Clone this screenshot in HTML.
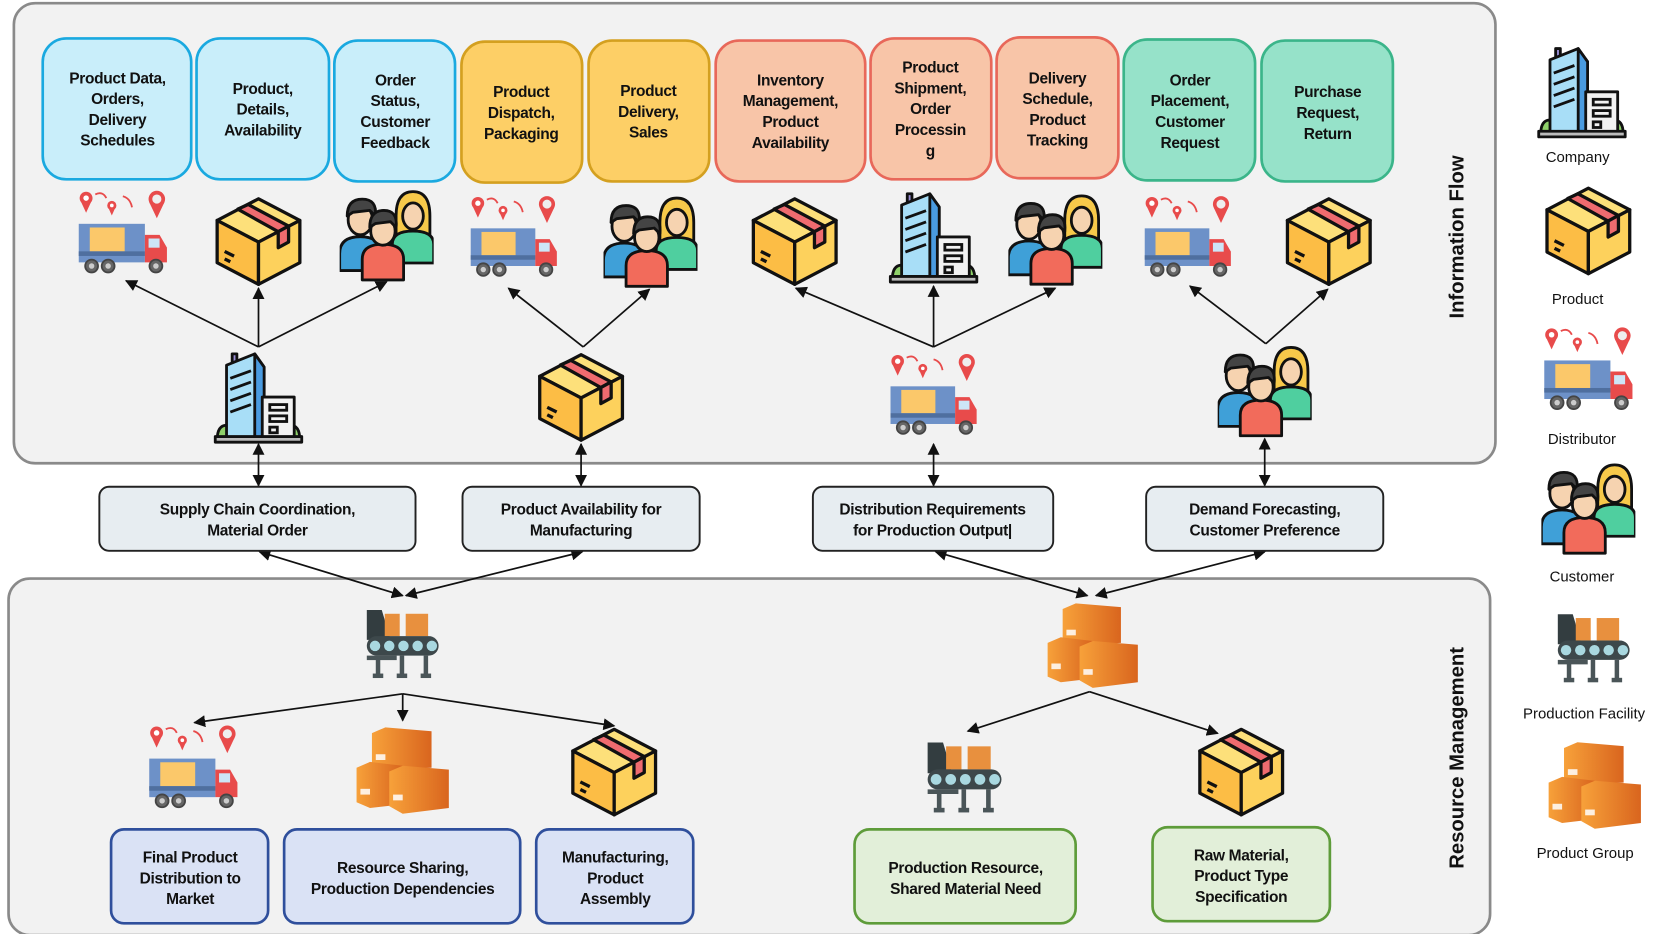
<!DOCTYPE html>
<html><head><meta charset="utf-8"><style>
html,body{margin:0;padding:0;background:#fff;width:1661px;height:934px;overflow:hidden}
svg text{font-family:"Liberation Sans",sans-serif}
.b{font-weight:bold;font-size:14.5px;fill:#111;text-anchor:middle;letter-spacing:-0.3px}
.l{font-size:14px;fill:#111;text-anchor:middle}
.ar{stroke:#111;stroke-width:1.6;fill:none}
</style></head><body>
<svg width="1661" height="934" viewBox="0 0 1555 875" preserveAspectRatio="none" xmlns="http://www.w3.org/2000/svg">
<defs>
<marker id="ah" viewBox="0 0 10 10" refX="9" refY="5" markerWidth="7" markerHeight="7" orient="auto-start-reverse"><path d="M0,0 L10,5 L0,10 z" fill="#111"/></marker>
<symbol id="box" viewBox="0 0 100 100">
<g stroke="#111" stroke-width="3.5" stroke-linejoin="round">
<polygon points="50,6 94,29 50,52 6,29" fill="#fde07a"/>
<polygon points="6,29 50,52 50,97 6,74" fill="#fcbd45"/>
<polygon points="50,52 94,29 94,74 50,97" fill="#fdd15c"/>
<polygon points="28,17 39,12 82,35 71,41" fill="#ef6b6f"/>
<polygon points="71,41 82,35 82,52 71,58" fill="#ef6b6f"/>
<path d="M14,62 L24,67 M14,70 L20,73" fill="none"/>
</g></symbol>
<symbol id="truck" viewBox="0 0 100 100">
<g fill="#e84b4b">
<circle cx="10" cy="10" r="7"/><path d="M4,13 L10,26 L16,13z"/>
<circle cx="38" cy="18" r="5"/><path d="M34,20 L38,29 L42,20z"/>
<circle cx="87" cy="11" r="9"/><path d="M79,15 L87,32 L95,15z"/>
</g>
<circle cx="10" cy="10" r="3" fill="#fff"/><circle cx="38" cy="18" r="2" fill="#fff"/><circle cx="87" cy="11" r="5" fill="#eee"/>
<path d="M20,6 Q28,2 32,10 M50,8 Q58,10 60,20" stroke="#e84b4b" stroke-width="2" fill="none"/>
<rect x="2" y="38" width="72" height="42" fill="#6d91c8"/>
<rect x="14" y="42" width="38" height="26" fill="#fbc86a"/>
<rect x="2" y="68" width="72" height="5" fill="#4f6f9f"/>
<path d="M74,50 L90,50 L98,64 L98,80 L74,80z" fill="#e84b4b"/>
<rect x="78" y="54" width="12" height="10" fill="#cde6f7"/>
<g fill="#666" stroke="#444" stroke-width="2"><circle cx="16" cy="84" r="7"/><circle cx="34" cy="84" r="7"/><circle cx="86" cy="84" r="7"/></g>
<g fill="#ccc"><circle cx="16" cy="84" r="3"/><circle cx="34" cy="84" r="3"/><circle cx="86" cy="84" r="3"/></g>
</symbol>
<symbol id="cust" viewBox="0 0 100 100">
<g stroke="#111" stroke-width="3" stroke-linejoin="round">
<path d="M60,30 Q60,4 78,4 Q96,4 96,30 L96,50 L60,50z" fill="#f7c94a"/>
<path d="M56,60 Q56,46 78,46 Q100,46 100,60 L100,80 L56,80z" fill="#4fcf9f"/>
<ellipse cx="78" cy="30" rx="11" ry="14" fill="#f6d3b0"/>
<path d="M0,70 Q0,52 22,52 Q44,52 44,70 L44,88 L0,88z" fill="#3fa0d8"/>
<ellipse cx="22" cy="34" rx="13" ry="16" fill="#f6d3b0"/>
<path d="M8,30 Q8,12 24,12 Q40,12 38,30 L32,24 L14,26z" fill="#444"/>
<path d="M24,76 Q24,60 46,60 Q68,60 68,76 L68,98 L24,98z" fill="#f26b5b"/>
<ellipse cx="46" cy="46" rx="13" ry="15" fill="#f6d3b0"/>
<path d="M32,42 Q32,24 47,24 Q62,24 60,42 L54,36 L38,38z" fill="#444"/>
</g></symbol>
<symbol id="comp" viewBox="0 0 100 100">
<g stroke="#111" stroke-width="3" stroke-linejoin="round">
<path d="M6,96 Q6,80 16,80 Q26,80 26,96z" fill="#8fd16a"/>
<path d="M74,96 Q74,80 84,80 Q94,80 94,96z" fill="#8fd16a"/>
<rect x="22" y="4" width="5" height="14" fill="#9b8fd8"/>
<path d="M16,16 L46,4 L56,18 L56,96 L16,96z" fill="#a8def7"/>
<path d="M46,4 L56,18 L56,96 L46,96z" fill="#4a9be0"/>
<rect x="54" y="50" width="34" height="46" fill="#f2f2f2"/>
<rect x="4" y="92" width="92" height="6" fill="#bbb"/>
</g>
<g stroke="#111" stroke-width="3"><path d="M20,30 L42,22 M20,42 L42,34 M20,54 L42,46 M20,66 L42,58"/><rect x="62" y="58" width="18" height="6" fill="none"/><rect x="62" y="70" width="18" height="6" fill="none"/><rect x="62" y="82" width="8" height="6" fill="none"/></g>
</symbol>
<symbol id="fac" viewBox="0 0 100 100">
<path d="M2,5 L22,5 L34,45 L2,45z" fill="#333d40"/>
<rect x="26" y="10" width="20" height="30" fill="#e8903e"/>
<rect x="54" y="10" width="30" height="30" fill="#e8903e"/>
<rect x="2" y="40" width="96" height="26" rx="13" fill="#3d484b"/>
<g fill="#a9d8e0"><circle cx="13" cy="53" r="7"/><circle cx="32" cy="53" r="7"/><circle cx="51" cy="53" r="7"/><circle cx="70" cy="53" r="7"/><circle cx="89" cy="53" r="7"/></g>
<g fill="#4a5558"><rect x="2" y="66" width="40" height="6"/><rect x="14" y="70" width="6" height="22"/><rect x="46" y="66" width="6" height="26"/><rect x="78" y="66" width="6" height="26"/><rect x="10" y="90" width="14" height="6"/><rect x="42" y="90" width="14" height="6"/><rect x="74" y="90" width="14" height="6"/></g>
</symbol>
<symbol id="grp" viewBox="0 0 100 100">
<defs><linearGradient id="og" x1="0" x2="1"><stop offset="0" stop-color="#f7a13a"/><stop offset="1" stop-color="#d9651e"/></linearGradient></defs>
<polygon points="18,12 32,6 80,10 80,48 32,50 18,46" fill="url(#og)"/>
<polygon points="2,48 16,42 50,46 50,86 16,90 2,84" fill="url(#og)"/>
<polygon points="36,52 50,46 98,50 98,90 50,96 36,88" fill="url(#og)"/>
<g fill="#fff" opacity=".85"><rect x="22" y="34" width="10" height="6"/><rect x="6" y="70" width="10" height="6"/><rect x="40" y="76" width="10" height="6"/></g>
</symbol>
</defs>

<!-- panels -->
<rect x="13" y="3" width="1387" height="431" rx="20" fill="#f2f2f2" stroke="#8a8a8a" stroke-width="2.5"/>
<rect x="8" y="542" width="1387" height="334" rx="20" fill="#f2f2f2" stroke="#8a8a8a" stroke-width="2.5"/>
<text transform="translate(1370,222) rotate(-90)" text-anchor="middle" font-weight="bold" font-size="19" fill="#111">Information Flow</text>
<text transform="translate(1370,710) rotate(-90)" text-anchor="middle" font-weight="bold" font-size="19" fill="#111">Resource Management</text>

<!-- top boxes -->
<g stroke-width="2.5">
<rect x="40" y="36" width="139" height="132" rx="22" fill="#c9eefa" stroke="#1aa9e0"/>
<rect x="184" y="36" width="124" height="132" rx="22" fill="#c9eefa" stroke="#1aa9e0"/>
<rect x="313" y="38" width="113" height="132" rx="22" fill="#c9eefa" stroke="#1aa9e0"/>
<rect x="432" y="39" width="113" height="132" rx="22" fill="#fdcf66" stroke="#d4a020"/>
<rect x="551" y="38" width="113" height="132" rx="22" fill="#fdcf66" stroke="#d4a020"/>
<rect x="670" y="38" width="140" height="132" rx="22" fill="#f8c5a8" stroke="#e8685a"/>
<rect x="815" y="36" width="113" height="132" rx="22" fill="#f8c5a8" stroke="#e8685a"/>
<rect x="933" y="35" width="114" height="132" rx="22" fill="#f8c5a8" stroke="#e8685a"/>
<rect x="1052" y="37" width="123" height="132" rx="22" fill="#96e2c9" stroke="#3bb58a"/>
<rect x="1181" y="38" width="123" height="132" rx="22" fill="#96e2c9" stroke="#3bb58a"/>
</g>
<g class="b">
<text x="110" y="78" class="b">Product Data,<tspan x="110" dy="19.5">Orders,</tspan><tspan x="110" dy="19.5">Delivery</tspan><tspan x="110" dy="19.5">Schedules</tspan></text>
<text x="246" y="88" class="b">Product,<tspan x="246" dy="19.5">Details,</tspan><tspan x="246" dy="19.5">Availability</tspan></text>
<text x="370" y="80" class="b">Order<tspan x="370" dy="19.5">Status,</tspan><tspan x="370" dy="19.5">Customer</tspan><tspan x="370" dy="19.5">Feedback</tspan></text>
<text x="488" y="91" class="b">Product<tspan x="488" dy="19.5">Dispatch,</tspan><tspan x="488" dy="19.5">Packaging</tspan></text>
<text x="607" y="90" class="b">Product<tspan x="607" dy="19.5">Delivery,</tspan><tspan x="607" dy="19.5">Sales</tspan></text>
<text x="740" y="80" class="b">Inventory<tspan x="740" dy="19.5">Management,</tspan><tspan x="740" dy="19.5">Product</tspan><tspan x="740" dy="19.5">Availability</tspan></text>
<text x="871" y="68" class="b">Product<tspan x="871" dy="19.5">Shipment,</tspan><tspan x="871" dy="19.5">Order</tspan><tspan x="871" dy="19.5">Processin</tspan><tspan x="871" dy="19.5">g</tspan></text>
<text x="990" y="78" class="b">Delivery<tspan x="990" dy="19.5">Schedule,</tspan><tspan x="990" dy="19.5">Product</tspan><tspan x="990" dy="19.5">Tracking</tspan></text>
<text x="1114" y="80" class="b">Order<tspan x="1114" dy="19.5">Placement,</tspan><tspan x="1114" dy="19.5">Customer</tspan><tspan x="1114" dy="19.5">Request</tspan></text>
<text x="1243" y="91" class="b">Purchase<tspan x="1243" dy="19.5">Request,</tspan><tspan x="1243" dy="19.5">Return</tspan></text>
</g>

<!-- top icons row -->
<use href="#truck" x="70" y="177" width="90" height="86"/>
<use href="#box" x="198" y="180" width="88" height="90"/>
<use href="#cust" x="318" y="176" width="88" height="88"/>
<use href="#truck" x="437" y="182" width="88" height="84"/>
<use href="#cust" x="565" y="182" width="88" height="88"/>
<use href="#box" x="700" y="180" width="88" height="90"/>
<use href="#comp" x="828" y="178" width="92" height="88"/>
<use href="#cust" x="944" y="180" width="88" height="88"/>
<use href="#truck" x="1068" y="182" width="88" height="84"/>
<use href="#box" x="1200" y="180" width="88" height="90"/>
<!-- middle icons -->
<use href="#comp" x="196" y="328" width="92" height="88"/>
<use href="#box" x="500" y="326" width="88" height="90"/>
<use href="#truck" x="830" y="330" width="88" height="84"/>
<use href="#cust" x="1140" y="322" width="88" height="88"/>

<!-- arrows top -->
<g class="ar" marker-end="url(#ah)">
<line x1="242" y1="325" x2="118" y2="263"/><line x1="242" y1="325" x2="242" y2="270"/><line x1="242" y1="325" x2="362" y2="264"/>
<line x1="546" y1="325" x2="476" y2="270"/><line x1="546" y1="325" x2="608" y2="271"/>
<line x1="874" y1="325" x2="745" y2="270"/><line x1="874" y1="325" x2="874" y2="268"/><line x1="874" y1="325" x2="988" y2="270"/>
<line x1="1185" y1="322" x2="1114" y2="268"/><line x1="1185" y1="322" x2="1243" y2="271"/>
</g>
<g class="ar" marker-end="url(#ah)" marker-start="url(#ah)">
<line x1="242" y1="416" x2="242" y2="455"/><line x1="544" y1="416" x2="544" y2="455"/>
<line x1="874" y1="416" x2="874" y2="455"/><line x1="1184" y1="411" x2="1184" y2="455"/>
<line x1="243" y1="517" x2="377" y2="558"/><line x1="545" y1="517" x2="380" y2="558"/>
<line x1="876" y1="517" x2="1018" y2="558"/><line x1="1184" y1="517" x2="1026" y2="558"/>
</g>

<!-- middle boxes -->
<g fill="#e7edf1" stroke="#222" stroke-width="1.8">
<rect x="93" y="456" width="296" height="60" rx="9"/>
<rect x="433" y="456" width="222" height="60" rx="9"/>
<rect x="761" y="456" width="225" height="60" rx="9"/>
<rect x="1073" y="456" width="222" height="60" rx="9"/>
</g>
<text x="241" y="482" class="b">Supply Chain Coordination,<tspan x="241" dy="19.5">Material Order</tspan></text>
<text x="544" y="482" class="b">Product Availability for<tspan x="544" dy="19.5">Manufacturing</tspan></text>
<text x="873" y="482" class="b">Distribution Requirements<tspan x="873" dy="19.5">for Production Output|</tspan></text>
<text x="1184" y="482" class="b">Demand Forecasting,<tspan x="1184" dy="19.5">Customer Preference</tspan></text>

<!-- bottom -->
<use href="#fac" x="333" y="568" width="88" height="70"/>
<use href="#grp" x="976" y="560" width="94" height="88"/>
<g class="ar" marker-end="url(#ah)">
<line x1="377" y1="650" x2="182" y2="677"/><line x1="377" y1="650" x2="377" y2="675"/><line x1="377" y1="650" x2="575" y2="680"/>
<line x1="1020" y1="648" x2="906" y2="685"/><line x1="1020" y1="648" x2="1140" y2="687"/>
</g>
<use href="#truck" x="136" y="678" width="90" height="86"/>
<use href="#grp" x="330" y="676" width="94" height="90"/>
<use href="#box" x="531" y="677" width="88" height="90"/>
<use href="#fac" x="859" y="692" width="88" height="72"/>
<use href="#box" x="1118" y="677" width="88" height="90"/>

<g stroke-width="2.5">
<rect x="104" y="777" width="147" height="88" rx="12" fill="#dae2f5" stroke="#2f4f9c"/>
<rect x="266" y="777" width="221" height="88" rx="12" fill="#dae2f5" stroke="#2f4f9c"/>
<rect x="502" y="777" width="147" height="88" rx="12" fill="#dae2f5" stroke="#2f4f9c"/>
<rect x="800" y="777" width="207" height="88" rx="14" fill="#e2efd9" stroke="#5e9c3a"/>
<rect x="1079" y="775" width="166" height="88" rx="14" fill="#e2efd9" stroke="#5e9c3a"/>
</g>
<text x="178" y="808" class="b">Final Product<tspan x="178" dy="19.5">Distribution to</tspan><tspan x="178" dy="19.5">Market</tspan></text>
<text x="377" y="818" class="b">Resource Sharing,<tspan x="377" dy="19.5">Production Dependencies</tspan></text>
<text x="576" y="808" class="b">Manufacturing,<tspan x="576" dy="19.5">Product</tspan><tspan x="576" dy="19.5">Assembly</tspan></text>
<text x="904" y="818" class="b">Production Resource,<tspan x="904" dy="19.5">Shared Material Need</tspan></text>
<text x="1162" y="806" class="b">Raw Material,<tspan x="1162" dy="19.5">Product Type</tspan><tspan x="1162" dy="19.5">Specification</tspan></text>

<!-- legend -->
<use href="#comp" x="1435" y="42" width="92" height="88"/>
<text x="1477" y="152" class="l">Company</text>
<use href="#box" x="1443" y="170" width="88" height="90"/>
<text x="1477" y="285" class="l">Product</text>
<use href="#truck" x="1443" y="305" width="88" height="86"/>
<text x="1481" y="416" class="l">Distributor</text>
<use href="#cust" x="1443" y="432" width="88" height="88"/>
<text x="1481" y="545" class="l">Customer</text>
<use href="#fac" x="1447" y="572" width="90" height="70"/>
<text x="1483" y="673" class="l">Production Facility</text>
<use href="#grp" x="1446" y="690" width="94" height="90"/>
<text x="1484" y="804" class="l">Product Group</text>
</svg>
</body></html>
